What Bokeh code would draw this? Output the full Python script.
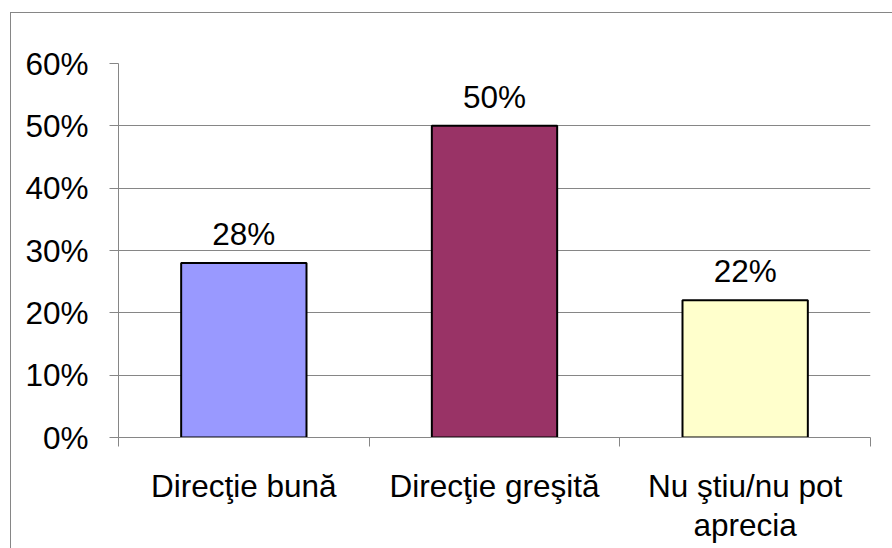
from bokeh.plotting import figure
from bokeh.models import FixedTicker, NumeralTickFormatter, ColumnDataSource
from bokeh.embed import file_html
from bokeh.resources import INLINE
from bokeh.core.properties import value

categories = ["Direcţie bună", "Direcţie greşită", "Nu ştiu/nu pot\naprecia"]
values = [0.28, 0.50, 0.22]
bar_colors = ["#9999FF", "#993366", "#FFFFCC"]
value_labels = ["28%", "50%", "22%"]
y_ticks = [0, 0.1, 0.2, 0.3, 0.4, 0.5, 0.6]

FONT = "Liberation Sans"
FS = "31.5px"
GRAY = "#868686"

xs = [i + 0.5 for i in range(len(categories))]
src = ColumnDataSource(dict(x=xs, top=values, color=bar_colors, label=value_labels))

p = figure(width=881, height=535, frame_width=752, frame_height=374,
           x_range=(0, len(categories)), y_range=(0, 0.6),
           output_backend="svg", toolbar_location=None,
           min_border_left=107, min_border_right=22, min_border_top=50, min_border_bottom=111)
p.margin = (12, 0, 0, 10)
p.styles = {"border-left": f"1px solid {GRAY}", "border-top": f"1px solid {GRAY}"}
p.outline_line_color = None
p.background_fill_color = "white"
p.border_fill_color = "white"

p.vbar(x="x", top="top", width=0.5, fill_color="color", line_color="black",
       line_width=2, source=src)
p.text(x="x", y="top", text="label", source=src, text_align="center",
       text_baseline="alphabetic", y_offset=-29, text_font=value(FONT),
       text_font_size=FS, text_color="black")

p.xgrid.grid_line_color = None
p.ygrid.grid_line_color = GRAY
p.ygrid.grid_line_width = 1
p.ygrid.ticker = FixedTicker(ticks=y_ticks)

yax = p.yaxis[0]
yax.ticker = FixedTicker(ticks=y_ticks, minor_ticks=[])
yax.formatter = NumeralTickFormatter(format="0%")
yax.axis_line_color = GRAY
yax.major_tick_line_color = GRAY
yax.major_tick_out = 9
yax.major_tick_in = 0
yax.minor_tick_line_color = None
yax.major_label_text_font = FONT
yax.major_label_text_font_size = FS
yax.major_label_text_color = "black"
yax.major_label_standoff = 21

xax = p.xaxis[0]
xax.ticker = FixedTicker(ticks=xs, minor_ticks=list(range(len(categories) + 1)))
xax.major_label_overrides = {x: c for x, c in zip(xs, categories)}
xax.axis_line_color = GRAY
xax.major_tick_line_color = None
xax.minor_tick_line_color = GRAY
xax.minor_tick_out = 9
xax.minor_tick_in = 0
xax.major_label_text_font = FONT
xax.major_label_text_font_size = FS
xax.major_label_text_color = "black"
xax.major_label_text_line_height = 1.1
xax.major_label_standoff = 21

open("out.html", "w").write(file_html(p, INLINE))
